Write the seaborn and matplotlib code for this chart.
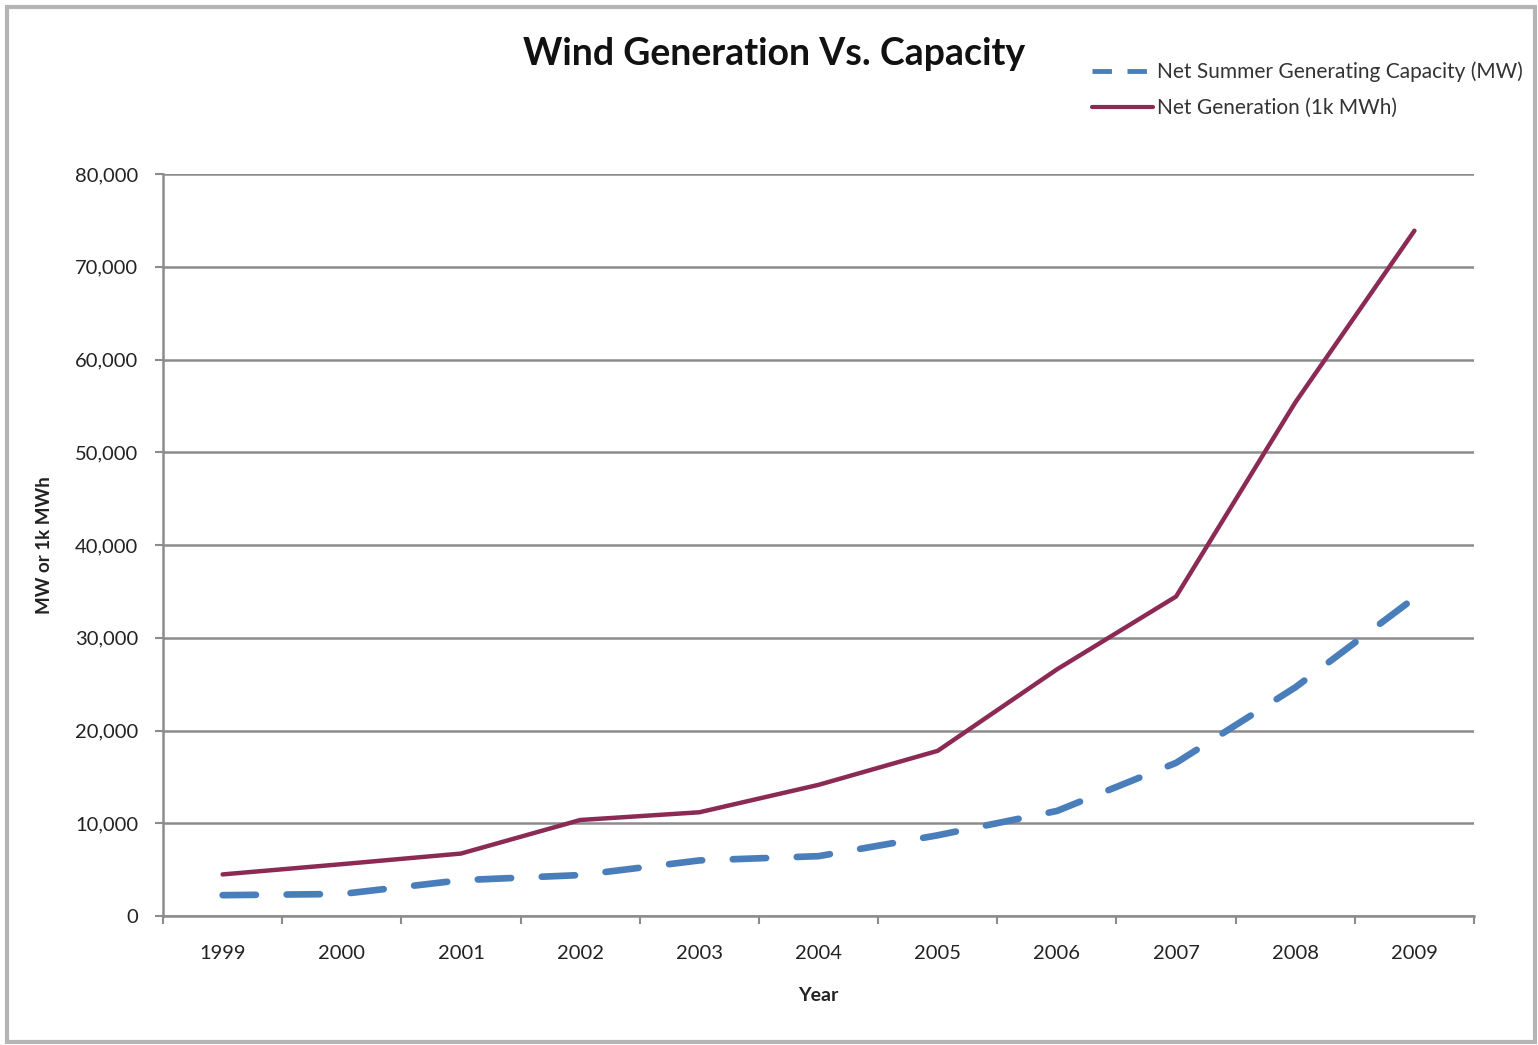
import matplotlib
matplotlib.use("Agg")
import matplotlib.pyplot as plt
from matplotlib.patches import Rectangle
from matplotlib.lines import Line2D
from matplotlib.ticker import FuncFormatter, FixedLocator
import seaborn as sns
import pandas as pd

years = [1999, 2000, 2001, 2002, 2003, 2004, 2005, 2006, 2007, 2008, 2009]
capacity_mw = [2252, 2377, 3864, 4417, 5995, 6456, 8706, 11329, 16515, 24651, 34296]
generation_k_mwh = [4488, 5593, 6737, 10354, 11187, 14144, 17811, 26589, 34450, 55363, 73886]
y_ticks = [0, 10000, 20000, 30000, 40000, 50000, 60000, 70000, 80000]

cap_label = "Net Summer Generating Capacity (MW)"
gen_label = "Net Generation (1k MWh)"

df = pd.DataFrame({
    "pos": list(range(1, len(years) + 1)),
    "cap": capacity_mw,
    "gen": generation_k_mwh,
})

sns.set_theme(style="white")
plt.rcParams["font.family"] = ["Lato", "DejaVu Sans"]

fig = plt.figure(figsize=(15.38, 10.45), dpi=100)
ax = fig.add_axes([0.106, 0.1234, 0.8524, 0.7101])

cap_color = "#4a7ebb"
gen_color = "#8b2a55"
grid_color = "#8c8c8c"
text_color = "#222222"

sns.lineplot(data=df, x="pos", y="cap", ax=ax, color=cap_color, linewidth=4.8,
             solid_capstyle="round")
ax.lines[-1].set_dashes([5.0, 4.6])
ax.lines[-1].set_dash_capstyle("round")
sns.lineplot(data=df, x="pos", y="gen", ax=ax, color=gen_color, linewidth=3.2)

ax.set_xlim(0.5, len(years) + 0.5)
ax.set_ylim(0, 80000)

# category axis: labels at the centres, tick marks on the boundaries
ax.xaxis.set_major_locator(FixedLocator(list(range(1, len(years) + 1))))
ax.set_xticklabels([str(y) for y in years])
ax.xaxis.set_minor_locator(FixedLocator([i + 0.5 for i in range(0, len(years) + 1)]))
ax.tick_params(axis="x", which="major", length=0, pad=21, labelsize=14.5, labelcolor=text_color)
ax.tick_params(axis="x", which="minor", length=6, width=1.5, color=grid_color,
               direction="out", bottom=True)

ax.set_yticks(y_ticks)
ax.yaxis.set_major_formatter(FuncFormatter(lambda v, p: f"{int(v):,}"))
ax.tick_params(axis="y", which="major", length=6, width=1.5, color=grid_color,
               direction="out", pad=12, labelsize=14.5, labelcolor=text_color, left=True)

ax.grid(axis="y", color=grid_color, linewidth=1.8)
ax.grid(axis="x", visible=False)
ax.set_axisbelow(True)

for side in ["top", "right"]:
    ax.spines[side].set_visible(False)
for side in ["left", "bottom"]:
    ax.spines[side].set_color(grid_color)
    ax.spines[side].set_linewidth(1.8)

ax.set_xlabel("Year", fontsize=14, fontweight="bold", labelpad=18, color=text_color)
ax.set_ylabel("MW or 1k MWh", fontsize=13.5, fontweight="bold", labelpad=16, color=text_color)

fig.text(0.503, 0.948, "Wind Generation Vs. Capacity", ha="center", va="center",
         fontsize=27, fontweight="bold", color="#111111")

handles = [
    Line2D([], [], color=cap_color, linewidth=3.5, dashes=[4.0, 3.2]),
    Line2D([], [], color=gen_color, linewidth=3.0),
]
fig.legend(handles, [cap_label, gen_label], loc="upper left",
           bbox_to_anchor=(0.698, 0.959), frameon=False, fontsize=15,
           handlelength=2.9, handletextpad=0.2, labelspacing=0.75, labelcolor="#333333")

fig.patches.append(Rectangle((7 / 1538, 3 / 1045), 1528 / 1538, 1035 / 1045,
                             transform=fig.transFigure, fill=False,
                             edgecolor="#b5b5b5", linewidth=3))

fig.savefig("out.png", dpi=100, facecolor="white")
